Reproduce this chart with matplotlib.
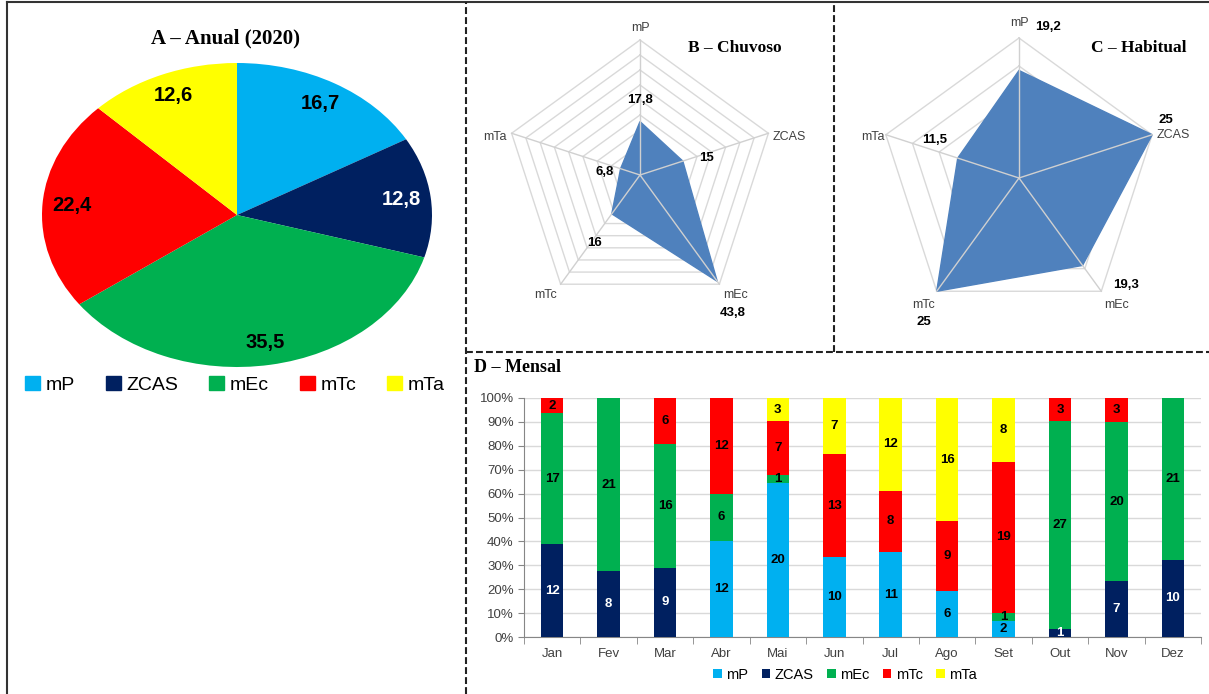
import numpy as np
import matplotlib.pyplot as plt
from matplotlib.lines import Line2D
from matplotlib.patches import Patch

plt.rcParams['font.family'] = ['Liberation Sans', 'DejaVu Sans']

W, H = 1209, 694

# air masses / systems
masses = ['mP', 'ZCAS', 'mEc', 'mTc', 'mTa']
colors = ['#00B0F0', '#002060', '#00B050', '#FF0000', '#FFFF00']

# A - annual share (%)
anual = [16.7, 12.8, 35.5, 22.4, 12.6]
# B - rainy season, C - usual season (%)
chuvoso = [17.8, 15, 43.8, 16, 6.8]
habitual = [19.2, 25, 19.3, 25, 11.5]

# D - monthly counts (days)
months = ['Jan', 'Fev', 'Mar', 'Abr', 'Mai', 'Jun',
          'Jul', 'Ago', 'Set', 'Out', 'Nov', 'Dez']
mensal_mP = [0, 0, 0, 12, 20, 10, 11, 6, 2, 0, 0, 0]
mensal_ZCAS = [12, 8, 9, 0, 0, 0, 0, 0, 0, 1, 7, 10]
mensal_mEc = [17, 21, 16, 6, 1, 0, 0, 0, 1, 27, 20, 21]
mensal_mTc = [2, 0, 6, 12, 7, 13, 8, 9, 19, 3, 3, 0]
mensal_mTa = [0, 0, 0, 0, 3, 7, 12, 16, 8, 0, 0, 0]


def box(x0, y0, x1, y1):
    # pixel box (top-left origin) -> figure fraction rect
    return [x0 / W, 1 - y1 / H, (x1 - x0) / W, (y1 - y0) / H]


def fmt(v):
    return (f'{v:.1f}' if v % 1 else f'{v:.0f}').replace('.', ',')


fig = plt.figure(figsize=(W / 100, H / 100), dpi=100)

# frame and dashed separators
fig.add_artist(Line2D([7 / W, 7 / W], [0, 1 - 2 / H], color='#333333', lw=1.5))
fig.add_artist(Line2D([7 / W, 1], [1 - 2 / H, 1 - 2 / H], color='#333333', lw=1.5))
dash = dict(color='#222222', lw=1.5, linestyle=(0, (3.3, 1.5)))
fig.add_artist(Line2D([466 / W, 466 / W], [0, 1 - 2 / H], **dash))
fig.add_artist(Line2D([834 / W, 834 / W], [1 - 352 / H, 1 - 2 / H], **dash))
fig.add_artist(Line2D([466 / W, 1], [1 - 352 / H, 1 - 352 / H], **dash))

serif = dict(family='Liberation Serif', fontweight='bold')

# ---------- A: pie ----------
ax = fig.add_axes(box(42, 63, 432, 367))
wedges, texts, autotexts = ax.pie(anual, colors=colors, startangle=90,
                                  counterclock=False, autopct='%1.1f',
                                  pctdistance=0.85,
                                  wedgeprops=dict(linewidth=0))
ax.set_aspect('auto')
ax.set_xlim(-1, 1)
ax.set_ylim(-1, 1)
for t, v, m in zip(autotexts, anual, masses):
    t.set_text(fmt(v))
    t.set_fontsize(14.5)
    t.set_fontweight('bold')
    t.set_color('white' if m == 'ZCAS' else 'black')
fig.text(226 / W, 1 - 38 / H, 'A – Anual (2020)', ha='center', va='center',
         fontsize=15, **serif)
fig.legend([Patch(color=c) for c in colors], masses, loc='center',
           bbox_to_anchor=(235 / W, 1 - 385 / H), ncol=5, frameon=False,
           fontsize=14, handlelength=0.75, handleheight=0.75,
           handletextpad=0.3, columnspacing=1.6)


# ---------- B / C: radar ----------
def radar(rect, values, rmax, rings, cat_off, val_off):
    ax = fig.add_axes(rect, projection='polar')
    ax.set_theta_offset(np.pi / 2)
    ax.set_theta_direction(-1)
    ax.set_ylim(0, rmax)
    ax.grid(False)
    ax.spines['polar'].set_visible(False)
    ax.set_xticks([])
    ax.set_yticks([])
    ax.patch.set_alpha(0)
    th = np.arange(len(values)) * 2 * np.pi / len(values)
    thc = np.append(th, th[0])
    for r in rings:
        ax.plot(thc, [r] * len(thc), color='#D9D9D9', lw=1, zorder=1, clip_on=False)
    vals = np.append(values, values[0])
    ax.fill(thc, vals, color='#4F81BD', zorder=2, clip_on=False)
    for t in th:
        ax.plot([t, t], [0, rmax], color='#D0D0D0', lw=1, zorder=3, clip_on=False)
    for t, m, (dx, dy, ha) in zip(th, masses, cat_off):
        ax.annotate(m, xy=(t, rmax), xytext=(dx, dy), textcoords='offset pixels',
                    ha=ha, va='center', fontsize=9, color='#404040')
    for t, v, (dx, dy) in zip(th, values, val_off):
        ax.annotate(fmt(v), xy=(t, v), xytext=(dx, dy), textcoords='offset pixels',
                    ha='center', va='center', fontsize=9.5, fontweight='bold',
                    color='black')
    return ax


radar(box(505, 40, 775, 310), chuvoso, 45, np.arange(5, 46, 5),
      [(0, 12, 'center'), (4, -4, 'left'), (4, -11, 'left'),
       (-4, -11, 'right'), (-5, -4, 'right')],
      [(0, 22), (24, 3), (15, -32), (-17, -29), (-16, -3)])
fig.text(735 / W, 1 - 48 / H, 'B – Chuvoso', ha='center', va='center',
         fontsize=12.5, **serif)

radar(box(879, 38, 1159, 318), habitual, 25, np.arange(5, 26, 5),
      [(0, 15, 'center'), (4, 0, 'left'), (3, -14, 'left'),
       (-2, -14, 'right'), (-1, -2, 'right')],
      [(29, 43), (14, 15), (44, -20), (-13, -31), (-23, 18)])
fig.text(1139 / W, 1 - 48 / H, 'C – Habitual', ha='center', va='center',
         fontsize=12.5, **serif)

# ---------- D: monthly stacked 100% bars ----------
axb = fig.add_axes(box(524, 398, 1201, 637))
series = [mensal_mP, mensal_ZCAS, mensal_mEc, mensal_mTc, mensal_mTa]
totals = np.sum(series, axis=0)
x = np.arange(len(months))
bottom = np.zeros(len(months))
for name, vals, col in zip(masses, series, colors):
    frac = np.array(vals) / totals
    axb.bar(x, frac, 0.4, bottom=bottom, color=col, label=name, zorder=3)
    for xi, v, f, b in zip(x, vals, frac, bottom):
        if v:
            axb.text(xi, b + f / 2, str(v), ha='center', va='center',
                     fontsize=9.5, fontweight='bold', zorder=4,
                     color='white' if name == 'ZCAS' else 'black')
    bottom += frac

axb.set_xlim(-0.5, len(months) - 0.5)
axb.set_ylim(0, 1)
yt = np.arange(0, 1.01, 0.1)
axb.set_yticks(yt)
axb.set_yticklabels([f'{round(v * 100)}%' for v in yt])
axb.set_xticks(x)
axb.set_xticklabels(months)
axb.set_xticks(np.arange(-0.5, len(months)), minor=True)
axb.tick_params(axis='x', which='major', length=0, pad=8)
axb.tick_params(axis='x', which='minor', length=5, color='#868686')
axb.tick_params(axis='y', length=4, color='#868686')
axb.tick_params(labelsize=9.5, labelcolor='#404040')
axb.grid(axis='y', color='#D9D9D9', lw=1, zorder=0)
for s in ['top', 'right']:
    axb.spines[s].set_visible(False)
for s in ['left', 'bottom']:
    axb.spines[s].set_color('#868686')
fig.text(474 / W, 1 - 368 / H, 'D – Mensal', ha='left', va='center',
         fontsize=13, **serif)
h, l = axb.get_legend_handles_labels()
fig.legend(h, l, loc='center', bbox_to_anchor=(845 / W, 1 - 675 / H), ncol=5,
           frameon=False, fontsize=10.5, handlelength=0.6, handleheight=0.6,
           handletextpad=0.3, columnspacing=0.9)

fig.savefig('out.png', dpi=100, facecolor='white')
